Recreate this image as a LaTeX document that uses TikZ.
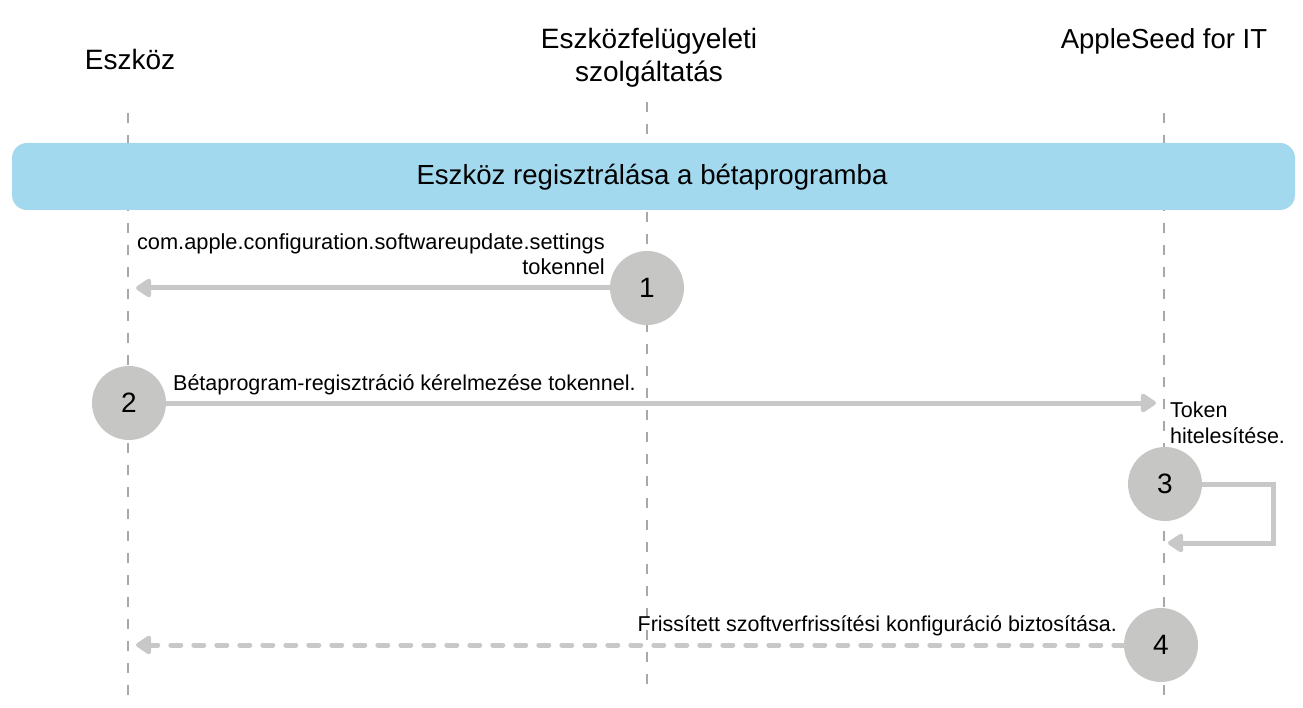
\documentclass[tikz,border=0pt]{standalone}
\usepackage{fontspec}
\setmainfont{Liberation Sans}
\usetikzlibrary{arrows.meta}
\definecolor{bandblue}{HTML}{A3D9EF}
\definecolor{circgray}{HTML}{C6C6C5}
\definecolor{arrgray}{HTML}{C8C8C8}
\definecolor{lifegray}{HTML}{A8A8A8}
\begin{document}
\begin{tikzpicture}[x=1pt,y=-1pt,
  lifeline/.style={draw=lifegray,line width=1.3pt,dash pattern=on 10pt off 12pt},
  header/.style={font=\fontsize{28}{33}\selectfont,align=center,anchor=base,inner sep=0pt},
  lbl/.style={font=\fontsize{21.5}{25.5}\selectfont,inner sep=0pt,anchor=base},
  stepcirc/.style={circle,fill=circgray,minimum size=74pt,inner sep=0pt,font=\fontsize{28}{28}\selectfont},
  arr/.style={draw=arrgray,line width=5pt,-{Triangle[length=17pt,width=21pt,round]}},
  dasharr/.style={arr,line cap=round,dash pattern=on 10pt off 13pt}
]
\useasboundingbox (0,0) rectangle (1303,708);
% lifelines
\coordinate (l1t) at (128,113); \coordinate (l1b) at (128,697);
\coordinate (l2t) at (647,102); \coordinate (l2b) at (647,685);
\coordinate (l3t) at (1164,113); \coordinate (l3b) at (1164,697);
\draw[lifeline] (l1t) -- (l1b);
\draw[lifeline] (l2t) -- (l2b);
\draw[lifeline] (l3t) -- (l3b);
% headers
\node[header] (h1) at (130,70) {Eszköz};
\node[header] (h2a) at (649,49) {Eszközfelügyeleti};
\node[header] (h2b) at (649,82) {szolgáltatás};
\node[header,font=\fontsize{27.5}{33}\selectfont] (h3) at (1164,49) {AppleSeed for IT};
% band
\node[fill=bandblue,rounded corners=15pt,minimum width=1283pt,minimum height=67pt,inner sep=0pt] (band) at (653.5,176.5) {};
\node[font=\fontsize{27.6}{30}\selectfont,anchor=base,inner sep=0pt] (bandtxt) at (652,185) {Eszköz regisztrálása a bétaprogramba};
% circles
\node[stepcirc] (c1) at (647,288) {1};
\node[stepcirc] (c2) at (129,403) {2};
\node[stepcirc] (c3) at (1165,484) {3};
\node[stepcirc] (c4) at (1161,645) {4};
% arrow 1
\coordinate (a1) at (136,288);
\draw[arr] (c1.west) -- (a1);
\node[lbl,anchor=base east,font=\fontsize{21.8}{25.5}\selectfont] (t1a) at (605,250) {com.apple.configuration.softwareupdate.settings};
\node[lbl,anchor=base east,font=\fontsize{21.8}{25.5}\selectfont] (t1b) at (605,275) {tokennel};
% arrow 2
\coordinate (a2) at (1156,403);
\draw[arr] (c2.east) -- (a2);
\node[lbl,anchor=base west] (t2) at (173,390) {Bétaprogram-regisztráció kérelmezése tokennel.};
% token
\node[lbl,anchor=base west] (t3a) at (1170,417) {Token};
\node[lbl,anchor=base west] (t3b) at (1170,443) {hitelesítése.};
% self loop
\coordinate (lr) at (1273,543);
\coordinate (le) at (1168,543);
\draw[arr] (c3.east) -| (lr) -- (le);
% arrow 4
\coordinate (a4) at (136,645);
\draw[dasharr] (c4.west) -- (a4);
\node[lbl,anchor=base east] (t4) at (1117,631) {Frissített szoftverfrissítési konfiguráció biztosítása.};
\end{tikzpicture}
\end{document}
